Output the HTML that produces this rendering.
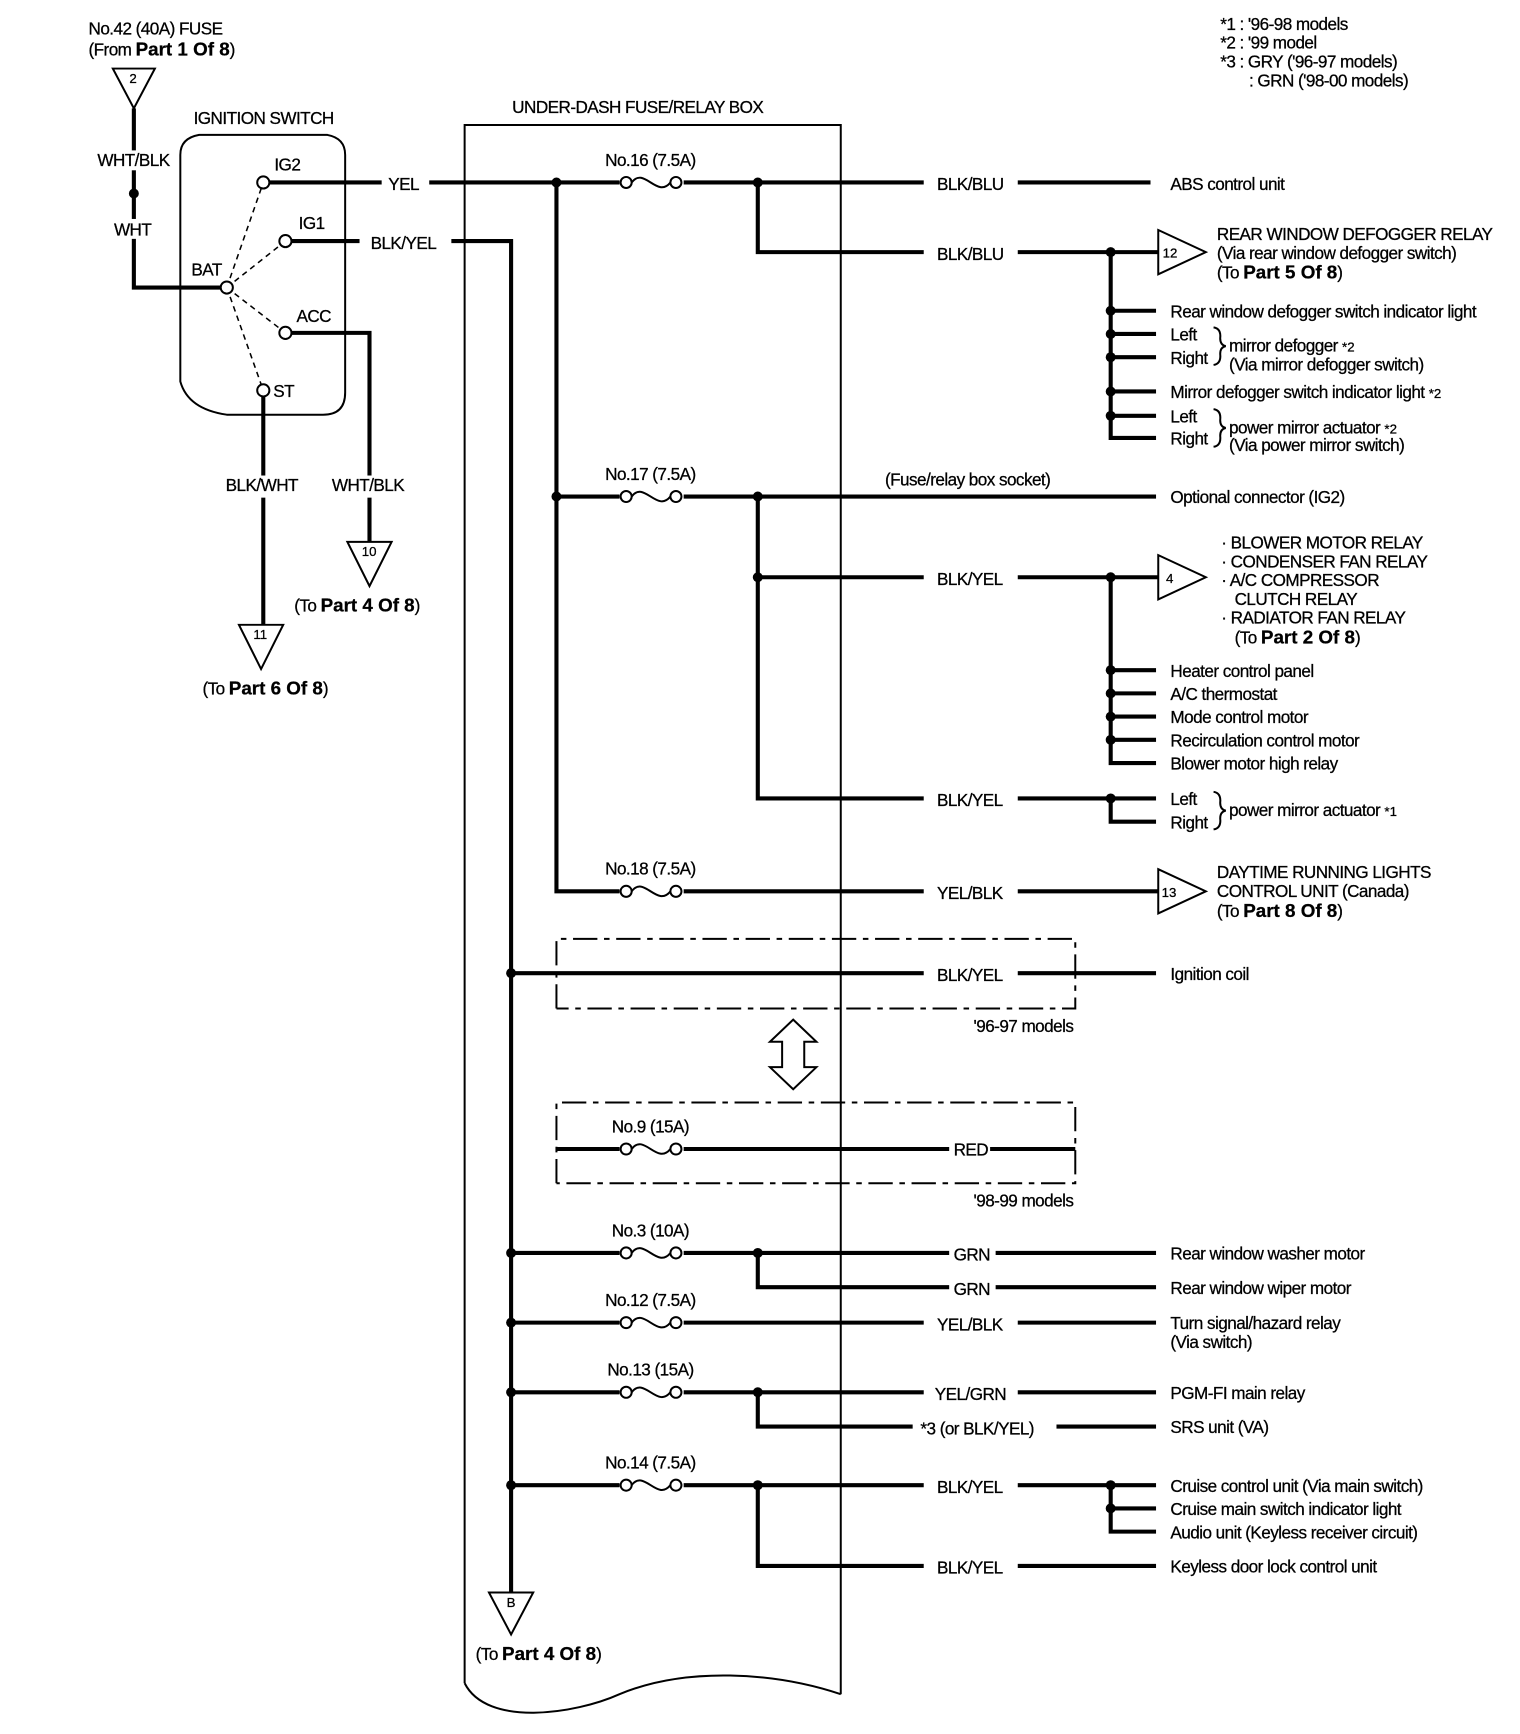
<!DOCTYPE html>
<html><head><meta charset="utf-8"><style>
html,body{margin:0;padding:0;background:#fff}
svg{display:block}
text{font-family:"Liberation Sans",sans-serif;font-size:15.5px;letter-spacing:-0.5px;fill:#000;stroke:#000;stroke-width:0.25}
.b{font-weight:bold;font-size:17px;letter-spacing:0}
.s{font-size:12px;letter-spacing:0}
.w{stroke:#000;stroke-width:3.7;fill:none}
.t{stroke:#000;stroke-width:1.8;fill:none}
.d{stroke:#000;stroke-width:1.4;fill:none;stroke-dasharray:5,4}
.dd{stroke:#000;stroke-width:1.8;fill:none;stroke-dasharray:22,6,5,6}
.c{fill:#fff;stroke:#000;stroke-width:1.8}
</style></head><body>
<svg width="1520" height="1734" viewBox="0 0 1374 1568" preserveAspectRatio="none" xmlns="http://www.w3.org/2000/svg">
<!-- legend -->
<text x="1103" y="27">*1  : '96-98 models</text>
<text x="1103" y="44">*2  : '99 model</text>
<text x="1103" y="61">*3  : GRY ('96-97 models)</text>
<text x="1129" y="78">: GRN ('98-00 models)</text>

<text x="80" y="31">No.42 (40A) FUSE</text>
<text x="80" y="50">(From <tspan class="b">Part 1 Of 8</tspan>)</text>
<path class="t" d="M102 62 L140 62 L121 98 Z"/><text class="s" x="117" y="75">2</text>
<path class="w" d="M121 98 V260 H205"/>
<circle cx="121" cy="175" r="4.5"/>
<rect x="86" y="136" width="72" height="18" fill="#fff"/><text x="88" y="150">WHT/BLK</text>
<rect x="100" y="198" width="40" height="18" fill="#fff"/><text x="103" y="213">WHT</text>

<text x="175" y="112">IGNITION SWITCH</text>
<path class="t" d="M163 140 Q163 125 180 122 L296 122 Q312 125 312 140 L312 355 Q312 375 292 375 L205 375 Q170 370 163 345 Z"/>
<path class="d" d="M205 260 L238 165 M205 260 L258 218 M205 260 L258 301 M205 260 L238 353"/>
<path class="w" d="M238 165 H345 M388 165 H835"/>
<text x="351" y="172">YEL</text>
<path class="w" d="M258 218 H325 M408 218 H462 V1440"/>
<text x="335" y="225">BLK/YEL</text>
<path class="w" d="M258 301 H334 V490"/>
<path class="w" d="M238 353 V565"/>
<rect x="200" y="430" width="75" height="20" fill="#fff"/><text x="204" y="444">BLK/WHT</text>
<rect x="298" y="430" width="72" height="20" fill="#fff"/><text x="300" y="444">WHT/BLK</text>
<circle class="c" cx="238" cy="165" r="5.5"/><text x="248" y="154">IG2</text>
<circle class="c" cx="258" cy="218" r="5.5"/><text x="270" y="207">IG1</text>
<circle class="c" cx="205" cy="260" r="5.5"/><text x="173" y="249">BAT</text>
<circle class="c" cx="258" cy="301" r="5.5"/><text x="268" y="291">ACC</text>
<circle class="c" cx="238" cy="353" r="5.5"/><text x="247" y="359">ST</text>
<path class="t" d="M314 490 L354 490 L334 530 Z"/><text class="s" x="327" y="503">10</text>
<text x="266" y="553">(To <tspan class="b">Part 4 Of 8</tspan>)</text>
<path class="t" d="M216 565 L256 565 L236 605 Z"/><text class="s" x="229" y="578">11</text>
<text x="183" y="628">(To <tspan class="b">Part 6 Of 8</tspan>)</text>

<text x="463" y="102">UNDER-DASH FUSE/RELAY BOX</text>
<path class="t" d="M420 1522 V113 H760 V1532"/>
<path class="t" d="M420 1522 C440 1562 520 1550 560 1532 C620 1507 700 1512 760 1532"/>

<path class="w" d="M503 165 V806 H835"/>
<circle cx="503" cy="165" r="4.5"/><circle cx="685" cy="165" r="4.5"/>
<path class="w" d="M685 165 V228 H835"/>
<text x="847" y="172">BLK/BLU</text>
<path class="w" d="M920 165 H1040"/><text x="1058" y="172">ABS control unit</text>
<text x="847" y="235">BLK/BLU</text>
<path class="w" d="M920 228 H1047"/>
<path class="t" d="M1047 208 L1090 228 L1047 248 Z"/><text class="s" x="1051" y="233">12</text>
<text x="1100" y="217">REAR WINDOW DEFOGGER RELAY</text>
<text x="1100" y="234">(Via rear window defogger switch)</text>
<text x="1100" y="252">(To <tspan class="b">Part 5 Of 8</tspan>)</text>
<path class="w" d="M1004 228 V396 H1045 M1004 281 H1045 M1004 302 H1045 M1004 323 H1045 M1004 354 H1045 M1004 376 H1045"/>
<g><circle cx="1004" cy="228" r="4.5"/><circle cx="1004" cy="281" r="4.5"/><circle cx="1004" cy="302" r="4.5"/><circle cx="1004" cy="323" r="4.5"/><circle cx="1004" cy="354" r="4.5"/><circle cx="1004" cy="376" r="4.5"/></g>
<text x="1058" y="287">Rear window defogger switch indicator light</text>
<text x="1058" y="308">Left</text><text x="1058" y="329">Right</text>
<path class="t" d="M1097 296 Q1104 297 1103 306 Q1103 312 1108 313 Q1103 314 1103 320 Q1104 329 1097 330"/>
<text x="1111" y="318">mirror defogger <tspan class="s">*2</tspan></text>
<text x="1111" y="335">(Via mirror defogger switch)</text>
<text x="1058" y="360">Mirror defogger switch indicator light <tspan class="s">*2</tspan></text>
<text x="1058" y="382">Left</text><text x="1058" y="402">Right</text>
<path class="t" d="M1097 370 Q1104 371 1103 380 Q1103 386 1108 387 Q1103 388 1103 394 Q1104 403 1097 404"/>
<text x="1111" y="392">power mirror actuator <tspan class="s">*2</tspan></text>
<text x="1111" y="408">(Via power mirror switch)</text>

<text x="547" y="150">No.16 (7.5A)</text>
<rect x="560" y="158" width="58" height="14" fill="#fff"/>
<circle class="c" cx="566" cy="165" r="5"/><circle class="c" cx="611" cy="165" r="5"/>
<path class="t" d="M571 165 C582 150 594 180 606 165"/>

<path class="w" d="M503 449 H1045"/>
<circle cx="503" cy="449" r="4.5"/><circle cx="685" cy="449" r="4.5"/>
<text x="547" y="434">No.17 (7.5A)</text>
<rect x="560" y="442" width="58" height="14" fill="#fff"/>
<circle class="c" cx="566" cy="449" r="5"/><circle class="c" cx="611" cy="449" r="5"/>
<path class="t" d="M571 449 C582 434 594 464 606 449"/>
<text x="800" y="439">(Fuse/relay box socket)</text>
<text x="1058" y="455">Optional connector (IG2)</text>
<path class="w" d="M685 449 V722 H835 M685 522 H835"/>
<circle cx="685" cy="522" r="4.5"/>
<text x="847" y="529">BLK/YEL</text>
<path class="w" d="M920 522 H1047"/>
<path class="t" d="M1047 502 L1090 522 L1047 542 Z"/><text class="s" x="1054" y="527">4</text>
<text x="1104" y="496">· BLOWER MOTOR RELAY</text>
<text x="1104" y="513">· CONDENSER FAN RELAY</text>
<text x="1104" y="530">· A/C COMPRESSOR</text>
<text x="1116" y="547">CLUTCH RELAY</text>
<text x="1104" y="564">· RADIATOR FAN RELAY</text>
<text x="1116" y="582">(To <tspan class="b">Part 2 Of 8</tspan>)</text>
<path class="w" d="M1004 522 V690 H1045 M1004 606 H1045 M1004 627 H1045 M1004 648 H1045 M1004 669 H1045"/>
<circle cx="1004" cy="522" r="4.5"/><circle cx="1004" cy="606" r="4.5"/><circle cx="1004" cy="627" r="4.5"/><circle cx="1004" cy="648" r="4.5"/><circle cx="1004" cy="669" r="4.5"/>
<text x="1058" y="612">Heater control panel</text>
<text x="1058" y="633">A/C thermostat</text>
<text x="1058" y="654">Mode control motor</text>
<text x="1058" y="675">Recirculation control motor</text>
<text x="1058" y="696">Blower motor high relay</text>
<text x="847" y="729">BLK/YEL</text>
<path class="w" d="M920 722 H1045 M1004 722 V743 H1045"/>
<circle cx="1004" cy="722" r="4.5"/>
<text x="1058" y="728">Left</text><text x="1058" y="749">Right</text>
<path class="t" d="M1097 716 Q1104 717 1103 726 Q1103 732 1108 733 Q1103 734 1103 740 Q1104 749 1097 750"/>
<text x="1111" y="738">power mirror actuator <tspan class="s">*1</tspan></text>

<text x="547" y="791">No.18 (7.5A)</text>
<rect x="560" y="799" width="58" height="14" fill="#fff"/>
<circle class="c" cx="566" cy="806" r="5"/><circle class="c" cx="611" cy="806" r="5"/>
<path class="t" d="M571 806 C582 791 594 821 606 806"/>
<text x="847" y="813">YEL/BLK</text>
<path class="w" d="M920 806 H1047"/>
<path class="t" d="M1047 786 L1090 806 L1047 826 Z"/><text class="s" x="1050" y="811">13</text>
<text x="1100" y="794">DAYTIME RUNNING LIGHTS</text>
<text x="1100" y="811">CONTROL UNIT (Canada)</text>
<text x="1100" y="829">(To <tspan class="b">Part 8 Of 8</tspan>)</text>

<path class="dd" d="M503 912 V849 H972 V912 H503"/>
<path class="w" d="M462 880 H835 M920 880 H1045"/>
<circle cx="462" cy="880" r="4.5"/>
<text x="847" y="887">BLK/YEL</text>
<text x="1058" y="886">Ignition coil</text>
<text x="880" y="933">'96-97 models</text>
<path class="t" d="M717 922 L738 942 L727 942 L727 965 L738 965 L717 985 L696 965 L707 965 L707 942 L696 942 Z"/>

<path class="dd" d="M503 1070 V997 H972 V1070 H503"/>
<path class="w" d="M503 1039 H858 M895 1039 H972"/>
<text x="862" y="1045">RED</text>
<text x="553" y="1024">No.9 (15A)</text>
<rect x="560" y="1032" width="58" height="14" fill="#fff"/>
<circle class="c" cx="566" cy="1039" r="5"/><circle class="c" cx="611" cy="1039" r="5"/>
<path class="t" d="M571 1039 C582 1024 594 1054 606 1039"/>
<text x="880" y="1091">'98-99 models</text>

<path class="w" d="M462 1133 H858 M900 1133 H1045 M685 1133 V1164 H858 M900 1164 H1045"/>
<circle cx="462" cy="1133" r="4.5"/><circle cx="685" cy="1133" r="4.5"/>
<text x="553" y="1118">No.3 (10A)</text>
<rect x="560" y="1126" width="58" height="14" fill="#fff"/>
<circle class="c" cx="566" cy="1133" r="5"/><circle class="c" cx="611" cy="1133" r="5"/>
<path class="t" d="M571 1133 C582 1118 594 1148 606 1133"/>
<text x="862" y="1140">GRN</text><text x="862" y="1171">GRN</text>
<text x="1058" y="1139">Rear window washer motor</text>
<text x="1058" y="1170">Rear window wiper motor</text>

<path class="w" d="M462 1196 H835 M920 1196 H1045"/>
<circle cx="462" cy="1196" r="4.5"/>
<text x="547" y="1181">No.12 (7.5A)</text>
<rect x="560" y="1189" width="58" height="14" fill="#fff"/>
<circle class="c" cx="566" cy="1196" r="5"/><circle class="c" cx="611" cy="1196" r="5"/>
<path class="t" d="M571 1196 C582 1181 594 1211 606 1196"/>
<text x="847" y="1203">YEL/BLK</text>
<text x="1058" y="1202">Turn signal/hazard relay</text>
<text x="1058" y="1219">(Via switch)</text>

<path class="w" d="M462 1259 H835 M920 1259 H1045 M685 1259 V1290 H825 M955 1290 H1045"/>
<circle cx="462" cy="1259" r="4.5"/><circle cx="685" cy="1259" r="4.5"/>
<text x="549" y="1244">No.13 (15A)</text>
<rect x="560" y="1252" width="58" height="14" fill="#fff"/>
<circle class="c" cx="566" cy="1259" r="5"/><circle class="c" cx="611" cy="1259" r="5"/>
<path class="t" d="M571 1259 C582 1244 594 1274 606 1259"/>
<text x="845" y="1266">YEL/GRN</text>
<text x="832" y="1297">*3 (or BLK/YEL)</text>
<text x="1058" y="1265">PGM-FI main relay</text>
<text x="1058" y="1296">SRS unit (VA)</text>

<path class="w" d="M462 1343 H835 M920 1343 H1045 M685 1343 V1416 H835 M920 1416 H1045 M1004 1343 V1385 H1045 M1004 1364 H1045"/>
<circle cx="462" cy="1343" r="4.5"/><circle cx="685" cy="1343" r="4.5"/><circle cx="1004" cy="1343" r="4.5"/><circle cx="1004" cy="1364" r="4.5"/>
<text x="547" y="1328">No.14 (7.5A)</text>
<rect x="560" y="1336" width="58" height="14" fill="#fff"/>
<circle class="c" cx="566" cy="1343" r="5"/><circle class="c" cx="611" cy="1343" r="5"/>
<path class="t" d="M571 1343 C582 1328 594 1358 606 1343"/>
<text x="847" y="1350">BLK/YEL</text><text x="847" y="1423">BLK/YEL</text>
<text x="1058" y="1349">Cruise control unit (Via main switch)</text>
<text x="1058" y="1370">Cruise main switch indicator light</text>
<text x="1058" y="1391">Audio unit (Keyless receiver circuit)</text>
<text x="1058" y="1422">Keyless door lock control unit</text>

<path class="t" d="M442 1440 L482 1440 L462 1478 Z"/><text class="s" x="458" y="1453">B</text>
<text x="430" y="1501">(To <tspan class="b">Part 4 Of 8</tspan>)</text>
</svg>
</body></html>
